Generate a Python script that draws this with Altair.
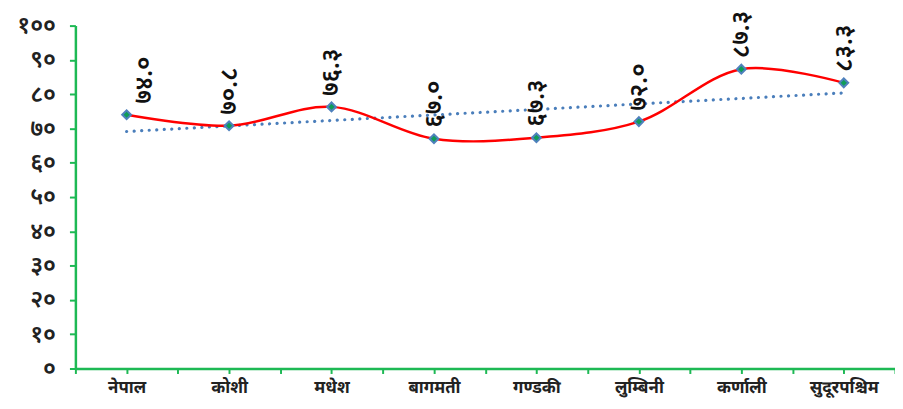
import altair as alt
import pandas as pd

categories = ["नेपाल", "कोशी", "मधेश", "बागमती", "गण्डकी", "लुम्बिनी", "कर्णाली", "सुदूरपश्चिम"]
values = [74.0, 70.8, 76.3, 67.0, 67.3, 72.0, 87.3, 83.3]
y_ticks = [0, 10, 20, 30, 40, 50, 60, 70, 80, 90, 100]

DEV = str.maketrans("0123456789", "०१२३४५६७८९")
def dev(s):
    return str(s).translate(DEV)

df = pd.DataFrame({
    "idx": list(range(len(categories))),
    "cat": categories,
    "value": values,
    "label": [dev(f"{v:.1f}") for v in values],
})

FONT = "Noto Sans Devanagari, Lohit Devanagari, Noto Sans, sans-serif"
GREEN = "#1db954"

y_expr = "".join(f"datum.value=={t}?'{dev(t)}':" for t in y_ticks) + "''"
x_expr = "".join(f"datum.value=={i}?'{c}':" for i, c in enumerate(categories)) + "''"

x = alt.X("idx:Q", scale=alt.Scale(domain=[-0.5, 7.5], nice=False, zero=False),
          axis=alt.Axis(values=[i / 2 for i in range(-1, 16)], labelExpr=x_expr, title=None,
                        grid=False, domainColor=GREEN, domainWidth=2.5, tickColor=GREEN,
                        tickWidth=2, tickSize=5, labelFont=FONT, labelFontSize=17,
                        labelFontWeight="bold", labelColor="#222", labelPadding=6,
                        labelFlush=False))
y = alt.Y("value:Q", scale=alt.Scale(domain=[0, 100], nice=False),
          axis=alt.Axis(values=y_ticks, labelExpr=y_expr, title=None, grid=False,
                        domainColor=GREEN, domainWidth=2.5, tickColor=GREEN, tickWidth=2,
                        tickSize=6, labelFont=FONT, labelFontSize=24, labelColor="#222",
                        labelFontWeight=600, labelPadding=14))

base = alt.Chart(df)

trend = base.transform_regression("idx", "value").mark_line(
    color="#4a7ebb", strokeWidth=3.2, strokeDash=[0.1, 7.5], strokeCap="round"
).encode(x=x, y=y)

line = base.mark_line(color="red", strokeWidth=2.5, interpolate="catmull-rom").encode(x=x, y=y)

pts = base.mark_point(shape="diamond", filled=True, fill="#0f9d58", stroke="#4f81bd",
                      strokeWidth=2, size=80, opacity=1).encode(x=x, y=y)

label_style = dict(angle=270, align="left", baseline="middle", dx=11,
                   font=FONT, fontSize=25, fontWeight=600, color="#111")

labels = base.transform_filter("datum.idx > 0").mark_text(**label_style).encode(
    x=x, y=y, text="label:N")
label_first = base.transform_filter("datum.idx == 0").mark_text(dy=18, **label_style).encode(
    x=x, y=y, text="label:N")

chart = alt.layer(trend, line, pts, labels, label_first).properties(
    width=827, height=346,
    autosize=alt.AutoSizeParams(type="none"),
    padding={"left": 68, "top": 16, "right": 0, "bottom": 30},
).configure_view(stroke=None)

chart.save("out.html", embed_options={"renderer": "svg", "actions": False})
